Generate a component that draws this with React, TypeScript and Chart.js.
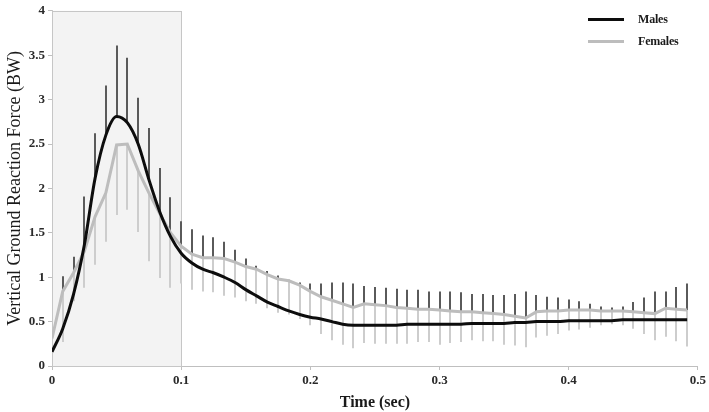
import React, { useEffect, useRef } from 'react';
import { Chart, registerables } from 'chart.js';

Chart.register(...registerables);

// Sampling times (s), 120 Hz
const timeSec = [
  0, 0.0083, 0.0167, 0.025, 0.0333, 0.0417, 0.05, 0.0583, 0.0667, 0.075,
  0.0833, 0.0917, 0.1, 0.1083, 0.1167, 0.125, 0.1333, 0.1417, 0.15, 0.1583,
  0.1667, 0.175, 0.1833, 0.1917, 0.2, 0.2083, 0.2167, 0.225, 0.2333, 0.2417,
  0.25, 0.2583, 0.2667, 0.275, 0.2833, 0.2917, 0.3, 0.3083, 0.3167, 0.325,
  0.3333, 0.3417, 0.35, 0.3583, 0.3667, 0.375, 0.3833, 0.3917, 0.4, 0.4083,
  0.4167, 0.425, 0.4333, 0.4417, 0.45, 0.4583, 0.4667, 0.475, 0.4833, 0.4917,
];

const maleMean = [
  0.16, 0.42, 0.81, 1.36, 2.11, 2.6, 2.81, 2.74, 2.5, 2.1,
  1.74, 1.46, 1.27, 1.16, 1.09, 1.05, 1.0, 0.94, 0.86, 0.79,
  0.72, 0.67, 0.62, 0.58, 0.55, 0.53, 0.5, 0.47, 0.46, 0.46,
  0.46, 0.46, 0.46, 0.47, 0.47, 0.47, 0.47, 0.47, 0.47, 0.48,
  0.48, 0.48, 0.48, 0.49, 0.49, 0.5, 0.5, 0.5, 0.51, 0.51,
  0.51, 0.51, 0.51, 0.52, 0.52, 0.52, 0.52, 0.52, 0.52, 0.52,
];

// mean + SD (upper end of the male error bars)
const maleUpper = [
  null, 1.01, 1.23, 1.91, 2.62, 3.16, 3.61, 3.47, 3.02, 2.68,
  2.23, 1.9, 1.63, 1.54, 1.47, 1.45, 1.4, 1.31, 1.21, 1.13,
  1.07, 1.02, 0.97, 0.94, 0.93, 0.93, 0.94, 0.94, 0.93, 0.9,
  0.89, 0.88, 0.87, 0.86, 0.86, 0.84, 0.84, 0.84, 0.83, 0.81,
  0.81, 0.8, 0.8, 0.81, 0.84, 0.8, 0.78, 0.77, 0.75, 0.73,
  0.7, 0.67, 0.66, 0.67, 0.72, 0.77, 0.84, 0.84, 0.89, 0.93,
];

const femaleMean = [
  0.31, 0.84, 1.05, 1.29, 1.68, 1.95, 2.49, 2.5, 2.2, 1.95,
  1.72, 1.5, 1.35, 1.26, 1.22, 1.22, 1.21, 1.17, 1.12, 1.09,
  1.03, 0.98, 0.96, 0.91, 0.84, 0.78, 0.74, 0.7, 0.66, 0.7,
  0.69, 0.68, 0.66, 0.65, 0.64, 0.64, 0.63, 0.62, 0.61, 0.61,
  0.6, 0.59, 0.58, 0.56, 0.54, 0.61, 0.62, 0.62, 0.63, 0.63,
  0.63, 0.62, 0.62, 0.62, 0.61, 0.6, 0.59, 0.65, 0.64, 0.63,
];

// mean - SD (lower end of the female error bars)
const femaleLower = [
  null, 0.27, 0.73, 0.88, 1.14, 1.4, 1.7, 1.76, 1.51, 1.18,
  0.99, 0.88, 0.93, 0.86, 0.84, 0.83, 0.79, 0.77, 0.73, 0.7,
  0.65, 0.6, 0.58, 0.53, 0.46, 0.36, 0.29, 0.24, 0.2, 0.26,
  0.25, 0.25, 0.25, 0.25, 0.27, 0.27, 0.24, 0.26, 0.27, 0.29,
  0.28, 0.28, 0.24, 0.23, 0.21, 0.32, 0.34, 0.36, 0.4, 0.41,
  0.43, 0.46, 0.47, 0.46, 0.42, 0.36, 0.29, 0.33, 0.28, 0.22,
];

const xTickLabels = ['0', '0.1', '0.2', '0.3', '0.4', '0.5'];
const yTickLabels = ['0', '0.5', '1', '1.5', '2', '2.5', '3', '3.5', '4'];
const shadedRange = [0, 0.1];
const seriesNames = ['Males', 'Females'];

const MALE_COLOR = '#0d0d0d';
const FEMALE_COLOR = '#bdbdbd';
const MALE_BAR = '#5a5a5a';
const FEMALE_BAR = '#cdcdcd';
const SERIF = "'Liberation Serif', 'Times New Roman', serif";

const backdropPlugin = {
  id: 'backdropAndErrorBars',
  beforeDatasetsDraw(chart: any) {
    const { ctx, scales } = chart;
    const x = scales.x;
    const y = scales.y;
    ctx.save();
    const x0 = x.getPixelForValue(shadedRange[0]);
    const x1 = x.getPixelForValue(shadedRange[1]);
    const yTop = y.getPixelForValue(y.max);
    const yBot = y.getPixelForValue(y.min);
    ctx.fillStyle = '#f3f3f3';
    ctx.fillRect(x0, yTop, x1 - x0, yBot - yTop);
    ctx.strokeStyle = '#c6c6c6';
    ctx.lineWidth = 1;
    ctx.strokeRect(Math.round(x0) + 0.5, Math.round(yTop) + 0.5, Math.round(x1 - x0), Math.round(yBot - yTop));

    ctx.lineWidth = 2;
    ctx.strokeStyle = MALE_BAR;
    timeSec.forEach((t, i) => {
      const u = maleUpper[i];
      if (u == null) return;
      const px = Math.round(x.getPixelForValue(t));
      ctx.beginPath();
      ctx.moveTo(px, y.getPixelForValue(maleMean[i]));
      ctx.lineTo(px, y.getPixelForValue(u));
      ctx.stroke();
    });
    ctx.strokeStyle = FEMALE_BAR;
    timeSec.forEach((t, i) => {
      const l = femaleLower[i];
      if (l == null) return;
      const px = Math.round(x.getPixelForValue(t));
      ctx.beginPath();
      ctx.moveTo(px, y.getPixelForValue(femaleMean[i]));
      ctx.lineTo(px, y.getPixelForValue(l));
      ctx.stroke();
    });
    ctx.restore();
  },
};

export default function App() {
  const canvasRef = useRef<HTMLCanvasElement | null>(null);

  useEffect(() => {
    document.body.style.margin = '0';
    const canvas = canvasRef.current;
    if (!canvas) return;
    const chart = new Chart(canvas, {
      type: 'line',
      data: {
        datasets: [
          {
            label: seriesNames[0],
            data: timeSec.map((t, i) => ({ x: t, y: maleMean[i] })),
            borderColor: MALE_COLOR,
            borderWidth: 3,
            pointRadius: 0,
            cubicInterpolationMode: 'monotone',
            order: 0,
          },
          {
            label: seriesNames[1],
            data: timeSec.map((t, i) => ({ x: t, y: femaleMean[i] })),
            borderColor: FEMALE_COLOR,
            borderWidth: 3,
            pointRadius: 0,
            tension: 0,
            order: 1,
          },
        ],
      },
      options: {
        responsive: false,
        animation: false,
        layout: { padding: { top: 5, right: 7, left: 0, bottom: 0 } },
        plugins: {
          legend: { display: false },
          tooltip: { enabled: false },
        },
        scales: {
          x: {
            type: 'linear',
            min: 0,
            max: 0.5,
            ticks: {
              stepSize: 0.1,
              autoSkip: false,
              maxRotation: 0,
              padding: 3,
              color: '#2a2a2a',
              font: { family: SERIF, size: 13, weight: 'bold' },
              callback: (v: any) => xTickLabels[Math.round(Number(v) * 10)],
            },
            grid: { drawOnChartArea: false, drawTicks: true, tickLength: 4, color: '#bfbfbf' },
            border: { color: '#bfbfbf', width: 1 },
            title: {
              display: true,
              text: 'Time (sec)',
              color: '#1a1a1a',
              font: { family: SERIF, size: 16, weight: 'bold' },
              padding: { top: 0, bottom: 0 },
            },
            afterFit: (s: any) => {
              s.height = 46;
            },
          },
          y: {
            min: 0,
            max: 4,
            ticks: {
              stepSize: 0.5,
              padding: 3,
              color: '#2a2a2a',
              font: { family: SERIF, size: 13, weight: 'bold' },
              callback: (v: any) => yTickLabels[Math.round(Number(v) * 2)],
            },
            grid: { drawOnChartArea: false, drawTicks: true, tickLength: 4, color: '#bfbfbf' },
            border: { color: '#bfbfbf', width: 1 },
            title: {
              display: true,
              text: 'Vertical Ground Reaction Force (BW)',
              color: '#1a1a1a',
              font: { family: SERIF, size: 18, weight: 'normal' },
              padding: { top: 4, bottom: 0 },
            },
            afterFit: (s: any) => {
              s.width = 52;
            },
          },
        },
      },
      plugins: [backdropPlugin],
    });
    return () => chart.destroy();
  }, []);

  const legendRow = (name: string, color: string) => (
    <div style={{ display: 'flex', alignItems: 'center', height: 22 }}>
      <span style={{ display: 'inline-block', width: 36, height: 3, background: color }} />
      <span
        style={{
          marginLeft: 14,
          fontFamily: SERIF,
          fontWeight: 'bold',
          fontSize: 12,
          color: '#1a1a1a',
          letterSpacing: '-0.2px',
        }}
      >
        {name}
      </span>
    </div>
  );

  return (
    <div style={{ position: 'relative', width: 709, height: 412 }}>
      <canvas ref={canvasRef} width={709} height={412} style={{ display: 'block' }} />
      <div style={{ position: 'absolute', left: 588, top: 8 }}>
        {legendRow(seriesNames[0], MALE_COLOR)}
        {legendRow(seriesNames[1], FEMALE_COLOR)}
      </div>
    </div>
  );
}
